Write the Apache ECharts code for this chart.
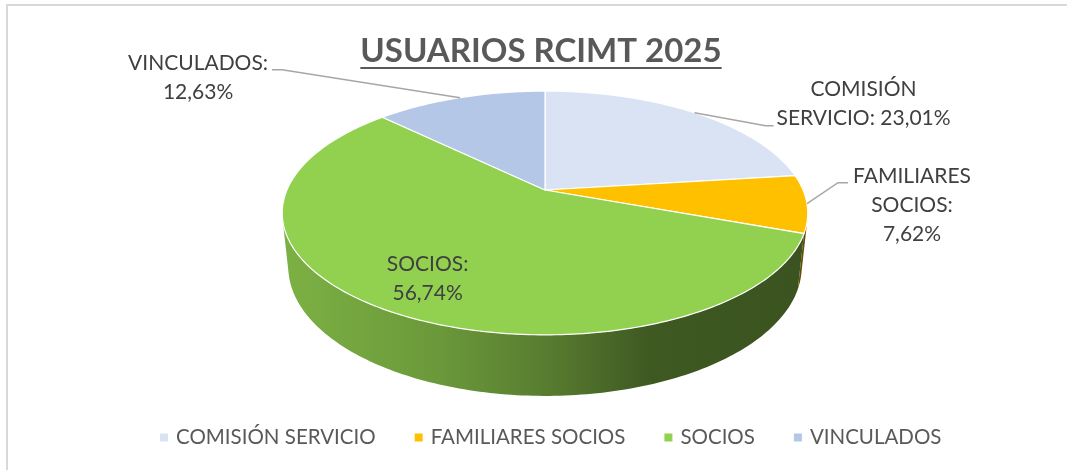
<!DOCTYPE html>
<html>
<head>
<meta charset="utf-8">
<title>USUARIOS RCIMT 2025</title>
<script src="https://cdn.jsdelivr.net/npm/echarts@6/dist/echarts.min.js"></script>
<style>
    html, body { margin: 0; padding: 0; background: #fff; }
    #chart { width: 1067px; height: 470px; }
</style>
</head>
<body>
<div id="chart"></div>
<script>
// datos
var titleText = 'USUARIOS RCIMT 2025';
var categories = ['COMISIÓN SERVICIO', 'FAMILIARES SOCIOS', 'SOCIOS', 'VINCULADOS'];
var percents = [23.01, 7.62, 56.74, 12.63];
var colors = ['#DAE3F3', '#FFC000', '#92D050', '#B4C7E7'];

// separador entre nombre y porcentaje en cada etiqueta (como en Excel)
var labelSep = [' ', '\n', '\n', '\n'];
// posicion de las etiquetas respecto al borde del sector
var labelLayout = [
    {dx: 169, dy: -9, line: [[71, 13], [79, 13]]},
    {dx: 105, dy: 2, line: [[31, -21], [41, -21]]},
    {inside: 0.77, dx: 4, dy: 2},
    {dx: -262, dy: -20, line: [[-178, -28], [-188, -28]]}
];

// geometria del pastel 3D (perspectiva)
var geo = {cx: 545, cy: 190, f: 1218, dist: 4.72, tilt: 27.1, depth: 0.236};
var FONT = 'Lato, "Noto Sans", sans-serif';

var sT = Math.sin(geo.tilt * Math.PI / 180), cT = Math.cos(geo.tilt * Math.PI / 180);
var total = percents.reduce(function (a, b) { return a + b; }, 0);
var starts = [];
percents.reduce(function (acc, v, i) { starts[i] = acc; return acc + v; }, 0);

function project(phi, r, z) {
    var x = r * Math.cos(phi), y = r * Math.sin(phi);
    var d = geo.dist + y * cT - z * sT;
    return [geo.cx + geo.f * x / d, geo.cy - geo.f * (y * sT + z * cT) / d];
}
function angleOf(t) {
    return Math.PI / 2 - 2 * Math.PI * t;
}
function arc(p0, p1, r, z) {
    var n = Math.max(2, Math.ceil(Math.abs(p1 - p0) / (Math.PI / 180)));
    var pts = [];
    for (var i = 0; i <= n; i++) {
        pts.push(project(p0 + (p1 - p0) * i / n, r, z));
    }
    return pts;
}
function shade(hex, k) {
    var n = parseInt(hex.slice(1), 16);
    return 'rgb(' + Math.round(((n >> 16) & 255) * k) + ',' + Math.round(((n >> 8) & 255) * k) + ',' + Math.round((n & 255) * k) + ')';
}
function pctText(v) {
    return v.toFixed(2).replace('.', ',') + '%';
}

// parte visible del lateral
var kVis = Math.asin(1 / (geo.dist * cT));
var visHi = -kVis, visLo = -Math.PI + kVis;
var xL = project(visLo, 1, 0)[0], xR = project(visHi, 1, 0)[0];

var seriesData = percents.map(function (v, i) {
    return {name: categories[i], value: [v, starts[i]]};
});

function sliceAngles(api) {
    return [angleOf(api.value(1) / total), angleOf((api.value(1) + api.value(0)) / total)];
}

function renderSide(params, api) {
    var ang = sliceAngles(api);
    var b = Math.min(ang[0], visHi), a = Math.max(ang[1], visLo);
    if (a >= b) return {type: 'group', children: []};
    var c = colors[params.dataIndex];
    var pts = arc(b, a, 1, 0).concat(arc(a, b, 1, -geo.depth));
    return {
        type: 'polygon',
        shape: {points: pts},
        style: {
            fill: new echarts.graphic.LinearGradient(xL, 0, xR, 0, [
                {offset: 0, color: shade(c, 0.85)},
                {offset: 0.3, color: shade(c, 0.73)},
                {offset: 0.5, color: shade(c, 0.6)},
                {offset: 0.7, color: shade(c, 0.43)},
                {offset: 1, color: shade(c, 0.4)}
            ], true)
        }
    };
}

function renderTop(params, api) {
    var ang = sliceAngles(api);
    var pts = [project(0, 0, 0)].concat(arc(ang[0], ang[1], 1, 0));
    return {
        type: 'polygon',
        shape: {points: pts},
        style: {fill: colors[params.dataIndex], stroke: '#fff', lineWidth: 1.2}
    };
}

function renderLabel(params, api) {
    var i = params.dataIndex;
    var ang = sliceAngles(api);
    var mid = (ang[0] + ang[1]) / 2;
    var lay = labelLayout[i];
    var txt = categories[i].replace(' ', '\n') + ':' + labelSep[i] + pctText(api.value(0));
    var textStyle = {
        text: txt, fill: '#404040', fontSize: 21, fontFamily: FONT,
        lineHeight: 29, align: 'center', verticalAlign: 'middle'
    };
    if (lay.inside) {
        var c = project(mid, lay.inside, 0);
        return {type: 'text', x: c[0] + lay.dx, y: c[1] + lay.dy, style: textStyle};
    }
    var a = project(mid, 1, 0);
    var line = [a].concat(lay.line.map(function (p) { return [a[0] + p[0], a[1] + p[1]]; }));
    return {
        type: 'group',
        children: [
            {type: 'polyline', shape: {points: line}, style: {stroke: '#a6a6a6', lineWidth: 1.5, fill: null}},
            {type: 'text', x: a[0] + lay.dx, y: a[1] + lay.dy, style: textStyle}
        ]
    };
}

// ancho del titulo para el subrayado
var ctx = document.createElement('canvas').getContext('2d');
ctx.font = 'bold 33px ' + FONT;
var titleW = ctx.measureText(titleText).width;
var titleX = 541;

var myChart = echarts.init(document.getElementById('chart'));
var option = {
    animation: false,
    graphic: [
        {type: 'rect', shape: {x: 7, y: 5, width: 1080, height: 480}, style: {fill: null, stroke: '#d9d9d9', lineWidth: 2}, silent: true},
        {type: 'text', x: titleX, y: 51, style: {text: titleText, fill: '#595959', fontSize: 33, fontWeight: 'bold', fontFamily: FONT, align: 'center', verticalAlign: 'middle'}},
        {type: 'rect', shape: {x: titleX - titleW / 2, y: 67, width: titleW, height: 2}, style: {fill: '#595959'}}
    ],
    legend: {
        data: categories,
        left: 160,
        top: 427,
        padding: 0,
        icon: 'rect',
        itemWidth: 8,
        itemHeight: 8,
        itemGap: 39,
        textStyle: {color: '#595959', fontSize: 20.5, fontFamily: FONT, padding: [0, 0, 0, 3]}
    },
    series: [
        {
            // solo para la leyenda
            type: 'pie', radius: [0, 0], center: [geo.cx, geo.cy], silent: true,
            label: {show: false}, labelLine: {show: false},
            data: percents.map(function (v, i) { return {name: categories[i], value: v, itemStyle: {color: colors[i]}}; })
        },
        {type: 'custom', name: 'lateral', coordinateSystem: 'none', z: 1, silent: true, renderItem: renderSide, data: seriesData},
        {type: 'custom', name: 'superficie', coordinateSystem: 'none', z: 2, silent: true, renderItem: renderTop, data: seriesData},
        {type: 'custom', name: 'etiquetas', coordinateSystem: 'none', z: 3, silent: true, renderItem: renderLabel, data: seriesData}
    ]
};
myChart.setOption(option);
</script>
</body>
</html>
